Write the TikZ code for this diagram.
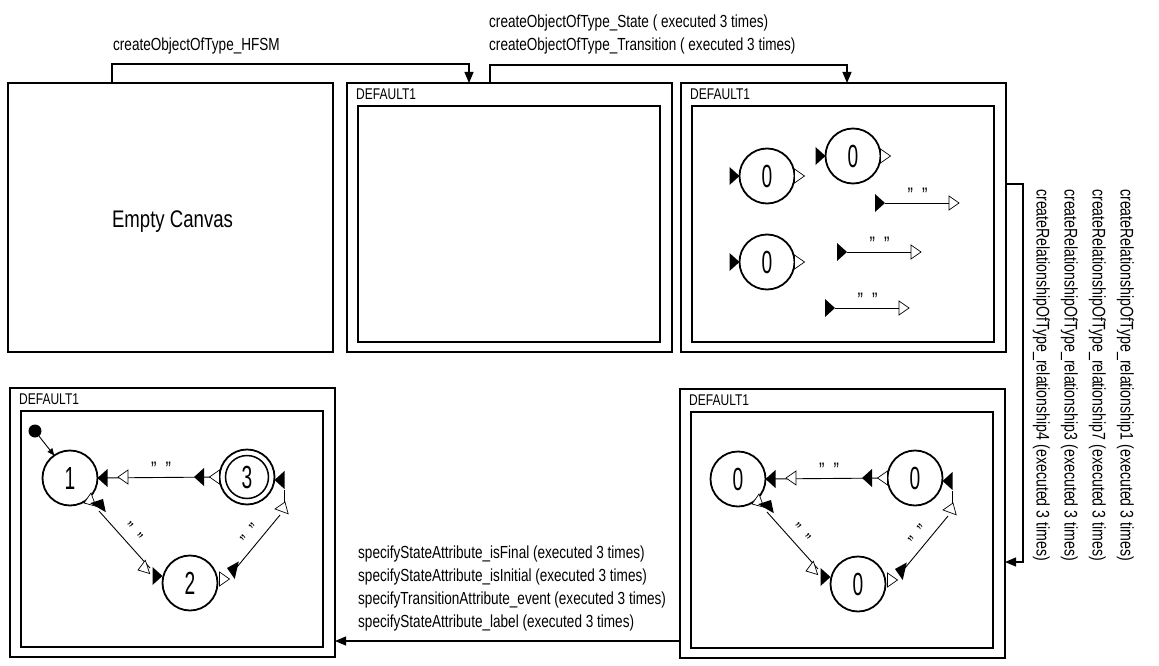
\documentclass[tikz,border=0pt]{standalone}
\usepackage{fontspec}
\setmainfont{Liberation Sans}[FakeStretch=0.775]
\newfontfamily\digitfont{Liberation Sans}[FakeStretch=0.6]
\usetikzlibrary{arrows.meta,positioning,calc}

\tikzset{
  panel/.style={draw, line width=1.5pt, minimum width=325pt, minimum height=269pt, anchor=north west, inner sep=0, outer sep=0},
  lbl/.style={font=\fontsize{17.5}{23}\selectfont, inner sep=0, align=left},
  fsmstate/.style={draw, circle, line width=1.8pt, fill=white, minimum size=55pt, inner sep=0, outer sep=0, font=\digitfont\fontsize{32}{32}\selectfont},
  conn/.style={line width=1.2pt, -{Triangle[length=11pt,width=9pt]}},
  transline/.style={line width=0.9pt},
  qlabel/.style={font=\fontsize{21}{22}\selectfont, inner sep=0},
  inport/.pic={\fill (0,0) -- (-10,-9) -- (-10,9) -- cycle;},
  outport/.pic={\filldraw[fill=white, line width=0.7pt] (0,0) -- (-10,-7) -- (-10,7) -- cycle;},
}
\newcommand{\qq}{"\hspace{9pt}"}

% three states and their transitions, as in the last two canvases
\newcommand{\fsmgraph}[4]{%
  \node[fsmstate] (#1-1) at (70,478) {#2};
  \node[fsmstate] (#1-2) at (190,583) {#3};
  \node[fsmstate] (#1-3) at (247,477) {#4};
  % 3 -> 1
  \coordinate (#1-ta) at (194,477);
  \coordinate (#1-tb) at (128,477);
  \draw[transline] (#1-3.west) -- (#1-1.east);
  \path (#1-ta) -- (#1-tb) node[qlabel, midway, above=0pt] (#1-tq) {\qq};
  \pic[rotate=180] at ($(#1-3.west)+(-10,0)$) {outport};
  \pic[rotate=180] at (#1-ta) {inport};
  \pic[rotate=180] at ($(#1-tb)+(-10,0)$) {outport};
  \pic[rotate=180] at (#1-1.east) {inport};
  % 1 -> 2
  \coordinate (#1-ua) at ($(#1-1)+(29,33)$);
  \coordinate (#1-ub) at ($(#1-2)+(-40,-15)$);
  \draw[transline] (#1-ua) -- (#1-ub) node[qlabel, midway, sloped, above=2pt] (#1-uq) {\qq};
  \pic[rotate=200] at ($(#1-1)+(14,25)$) {outport};
  \pic[rotate=60] at ($(#1-1)+(33,21)$) {inport};
  \pic[rotate=198] at ($(#1-2)+(-52,-13)$) {outport};
  \pic at ($(#1-2.west)+(0,-7)$) {inport};
  % 2 -> 3
  \coordinate (#1-va) at ($(#1-2)+(47,-16)$);
  \coordinate (#1-vb) at ($(#1-3)+(33,38)$);
  \draw[transline] (#1-va) -- (#1-vb) node[qlabel, midway, sloped, above=2pt] (#1-vq) {\qq};
  \draw[transline] ($(#1-3)+(37,13)$) -- ($(#1-3)+(37,25)$);
  \pic at ($(#1-2.east)+(12,-4)$) {outport};
  \pic[rotate=167] at ($(#1-2)+(37,-15)$) {inport};
  \pic[rotate=70] at ($(#1-3)+(38,25)$) {outport};
  \pic[rotate=180] at ($(#1-3.east)+(0,3)$) {inport};
}

\begin{document}
\begin{tikzpicture}[x=1pt, y=-1pt]
\useasboundingbox (0,0) rectangle (1159,666);

% canvases
\node[panel] (empty) at (8,83) {};
\node[lbl, font=\fontsize{24}{28}\selectfont] (emptytxt) at ($(empty.center)+(2,4)$) {Empty Canvas};
\foreach \n/\x/\y in {hfsmbox/347/83, objbox/681/83, attrbox/10/388, relbox/680/389}{
  \node[panel] (\n) at (\x,\y) {};
  \draw[line width=1.1pt] ($(\n.north west)+(11,23)$) rectangle ($(\n.south east)+(-12,-10)$);
  \node[lbl, font=\fontsize{15.5}{18}\selectfont, anchor=west] (\n-name) at ($(\n.north west)+(9,11)$) {DEFAULT1};
}

% steps between the canvases
\draw[conn] ($(empty.north west)+(104,0)$) -- ++(0,-19) -| ($(hfsmbox.north west)+(122,0)$);
\node[lbl, anchor=south west] (hfsmlbl) at (113,54) {createObjectOfType\_HFSM};

\draw[conn] ($(hfsmbox.north west)+(143,0)$) -- ++(0,-18) -| ($(objbox.north west)+(166,0)$);
\node[lbl, anchor=south west] (objlbl) at (489,54) {createObjectOfType\_State ( executed 3 times)\\createObjectOfType\_Transition ( executed 3 times)};

\draw[conn] ($(objbox.north east)+(0,101)$) -- ++(17,0) |- ($(relbox.north east)+(0,173)$);
\node[lbl, font=\fontsize{18.3}{28}\selectfont, rotate=-90, anchor=north west] (rellbl) at (1134,189) {createRelationshipOfType\_relationship1 (executed 3 times)\\createRelationshipOfType\_relationship7 (executed 3 times)\\createRelationshipOfType\_relationship3 (executed 3 times)\\createRelationshipOfType\_relationship4 (executed 3 times)};

\draw[conn] ($(relbox.south west)+(0,-17)$) coordinate (attrstart) -- (attrstart -| attrbox.east);
\node[lbl, anchor=south west] (attrlbl) at (358,631) {specifyStateAttribute\_isFinal (executed 3 times)\\specifyStateAttribute\_isInitial (executed 3 times)\\specifyTransitionAttribute\_event (executed 3 times)\\specifyStateAttribute\_label (executed 3 times)};

% states and transitions created
\node[fsmstate] (c1) at (767,176) {0};
\node[fsmstate] (c2) at (853,156) {0};
\node[fsmstate] (c3) at (767,262) {0};
\foreach \s in {c1,c2,c3}{
  \pic at (\s.west) {inport};
  \pic at ($(\s.east)+(10,0)$) {outport};
}
\foreach \t/\x/\y in {t1/876/203, t2/838/252, t3/826/308}{
  \coordinate (\t-a) at (\x+9,\y);
  \coordinate (\t-b) at (\x+74,\y);
  \draw[transline] (\t-a) -- (\t-b) node[qlabel, midway, above=0pt] (\t-q) {\qq};
  \pic at (\t-a) {inport};
  \pic at ($(\t-b)+(9,0)$) {outport};
}

% final machine with attributes
\fsmgraph{d}{1}{2}{3}
\draw[line width=1.5pt] (d-3) circle (21.5pt);
\node[circle, fill, minimum size=13pt, inner sep=0] (init) at (35,431) {};
\draw[line width=0.9pt, -{Triangle[length=7pt,width=6pt]}] (init) -- (d-1.125);

% machine after the relationships
\begin{scope}[shift={(668,1)}]
\fsmgraph{e}{0}{0}{0}
\end{scope}
\end{tikzpicture}
\end{document}
